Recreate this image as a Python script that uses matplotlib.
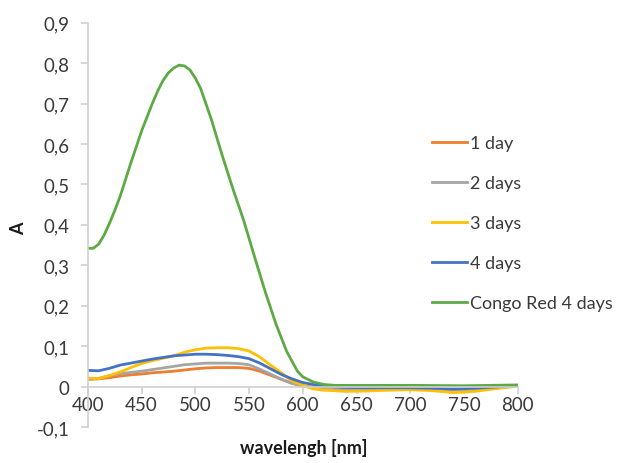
import matplotlib
matplotlib.use("Agg")
import matplotlib.pyplot as plt
from matplotlib.ticker import FuncFormatter

plt.rcParams['font.family'] = ['Lato', 'DejaVu Sans']

# Congo Red spectrum (own wavelength grid, finer around the peak)
wl_congo = [400, 405, 410, 415, 420, 425, 430, 440, 450, 460, 465, 470, 475,
            480, 485, 490, 495, 500, 505, 515, 525, 535, 545, 555, 565, 575,
            585, 595, 600, 610, 620, 630, 650, 700, 750, 800]
congo_red = [0.342, 0.342, 0.352, 0.374, 0.403, 0.435, 0.470, 0.553, 0.632,
             0.700, 0.731, 0.757, 0.776, 0.788, 0.795, 0.793, 0.783, 0.763,
             0.737, 0.660, 0.572, 0.489, 0.411, 0.322, 0.235, 0.155, 0.087,
             0.038, 0.024, 0.011, 0.005, 0.003, 0.003, 0.003, 0.002, 0.004]

# samples after 1..4 days
wl = [400, 410, 420, 430, 440, 450, 460, 470, 480, 490, 500, 510, 520, 530,
      540, 550, 560, 570, 580, 590, 600, 610, 620, 640, 660, 680, 700, 720,
      740, 760, 780, 800]
day1 = [0.018, 0.019, 0.022, 0.026, 0.029, 0.031, 0.034, 0.036, 0.038, 0.041,
        0.044, 0.046, 0.047, 0.047, 0.047, 0.045, 0.038, 0.028, 0.018, 0.008,
        0.002, -0.002, -0.004, -0.006, -0.006, -0.005, -0.005, -0.006, -0.008,
        -0.006, -0.003, 0.002]
day2 = [0.018, 0.020, 0.027, 0.032, 0.035, 0.038, 0.042, 0.046, 0.050, 0.054,
        0.056, 0.058, 0.058, 0.058, 0.057, 0.054, 0.043, 0.031, 0.018, 0.008,
        0.001, -0.003, -0.004, -0.005, -0.005, -0.005, -0.005, -0.006, -0.008,
        -0.006, -0.003, 0.002]
day3 = [0.021, 0.020, 0.027, 0.036, 0.047, 0.057, 0.064, 0.070, 0.076, 0.085,
        0.091, 0.095, 0.096, 0.096, 0.094, 0.088, 0.073, 0.053, 0.034, 0.014,
        0.003, -0.006, -0.009, -0.012, -0.011, -0.009, -0.008, -0.010, -0.015,
        -0.012, -0.005, 0.001]
day4 = [0.040, 0.039, 0.045, 0.053, 0.058, 0.063, 0.068, 0.072, 0.076, 0.078,
        0.080, 0.080, 0.079, 0.077, 0.074, 0.069, 0.058, 0.044, 0.030, 0.019,
        0.010, 0.005, 0.001, -0.002, -0.003, -0.003, -0.003, -0.004, -0.006,
        -0.004, -0.001, 0.003]

labels = ['1 day', '2 days', '3 days', '4 days', 'Congo Red 4 days']
colors = ['#ED7D31', '#A5A5A5', '#FFC000', '#4472C4', '#5DAA45']

fig = plt.figure(figsize=(6.23, 4.64), dpi=100)
ax = fig.add_axes([0.141, 0.0776, 0.690, 0.8714])

for series, lab, col in zip([day1, day2, day3, day4], labels[:4], colors[:4]):
    ax.plot(wl, series, color=col, lw=2, label=lab, solid_joinstyle='round')
ax.plot(wl_congo, congo_red, color=colors[4], lw=2, label=labels[4],
        solid_joinstyle='round')

ax.set_xlim(400, 800)
ax.set_ylim(-0.1, 0.9)
ax.set_xticks(range(400, 801, 50))
ax.set_yticks([i / 10 for i in range(-1, 10)])
ax.yaxis.set_major_formatter(FuncFormatter(
    lambda v, p: ('%.1f' % v).replace('.', ',') if abs(v) > 1e-9 else '0'))

# x axis crosses at A = 0
ax.spines['bottom'].set_position(('data', 0))
for s in ['top', 'right']:
    ax.spines[s].set_visible(False)
for s in ['left', 'bottom']:
    ax.spines[s].set_color('#D0D0D0')
    ax.spines[s].set_linewidth(1.2)
ax.tick_params(axis='both', colors='#D0D0D0', labelcolor='#3A3A3A',
               labelsize=13.5, length=5, width=1.2)
ax.tick_params(axis='y', pad=8)
ax.tick_params(axis='x', pad=2)

fig.text(0.488, 0.035, 'wavelengh [nm]', ha='center', va='center',
         fontsize=13, fontweight='bold', color='#1A1A1A')
fig.text(0.03, 0.508, 'A', ha='center', va='center', rotation=90,
         fontsize=13, fontweight='bold', color='#1A1A1A')

ax.legend(loc='upper left', bbox_to_anchor=(0.679, 0.7255),
          bbox_transform=fig.transFigure, frameon=False, fontsize=13,
          handlelength=1.95, handletextpad=0.15, labelspacing=1.33,
          labelcolor='#3A3A3A', borderpad=0)

fig.savefig('out.png', dpi=100)
